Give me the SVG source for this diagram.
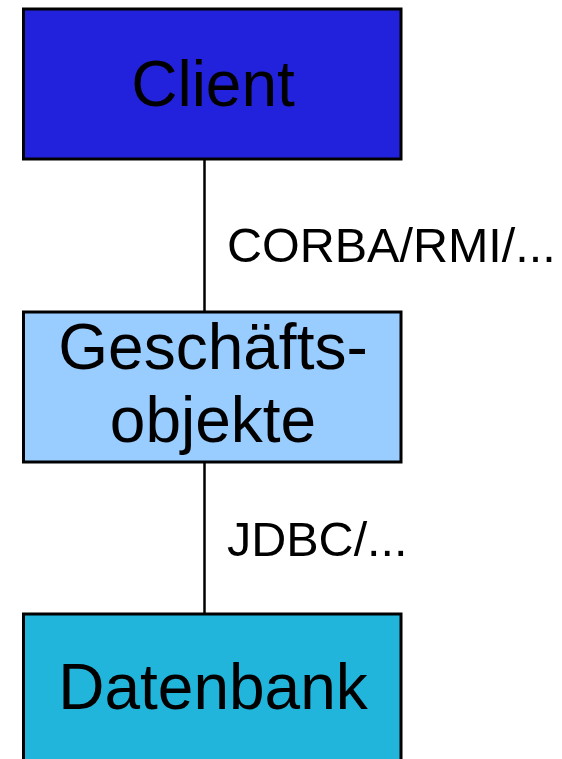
<svg xmlns="http://www.w3.org/2000/svg" width="562" height="759" viewBox="0 0 562 759">
<style>
.box{stroke:#000;stroke-width:3}
.t{font-family:"Liberation Sans",Arial,sans-serif;font-size:64px;fill:#000;text-anchor:middle}
.l{font-family:"Liberation Sans",Arial,sans-serif;font-size:48.5px;fill:#000}
.c{stroke:#000;stroke-width:2.5;fill:none}
</style>
<rect width="562" height="759" fill="#fff"/>
<g id="connectors">
<line class="c" x1="204.5" y1="159" x2="204.5" y2="312"/>
<line class="c" x1="204.5" y1="462" x2="204.5" y2="614"/>
<text class="l" x="227" y="262">CORBA/RMI/...</text>
<text class="l" x="227" y="556">JDBC/...</text>
</g>
<g id="client">
<rect class="box" x="23.5" y="9" width="377.5" height="150" fill="#2222DD"/>
<text class="t" x="213" y="106">Client</text>
</g>
<g id="geschaeftsobjekte">
<rect class="box" x="23.5" y="312" width="377.5" height="150" fill="#99CCFF"/>
<text class="t" x="213" y="369">Geschäfts-</text>
<text class="t" x="213" y="442">objekte</text>
</g>
<g id="datenbank">
<rect class="box" x="23.5" y="614" width="377.5" height="160" fill="#22B5DB"/>
<text class="t" x="213" y="709">Datenbank</text>
</g>
</svg>
